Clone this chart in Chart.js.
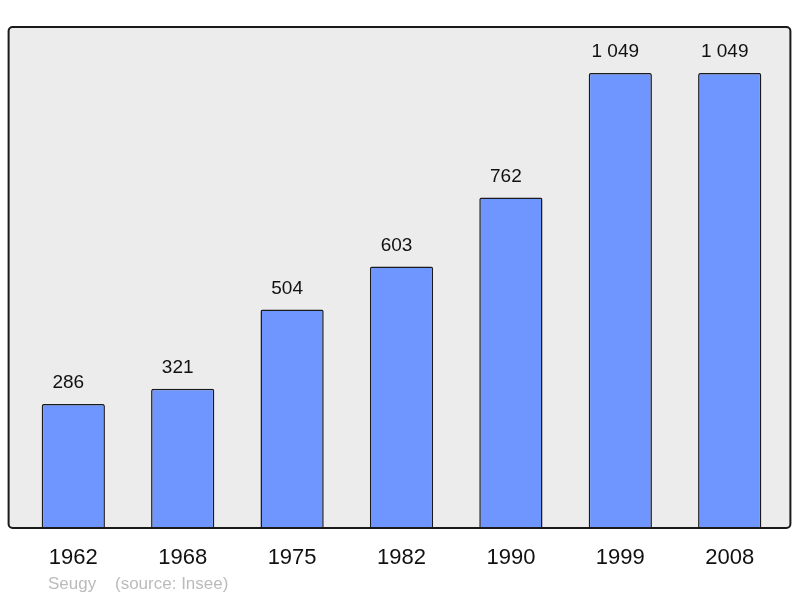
<!DOCTYPE html>
<html>
<head>
<meta charset="utf-8">
<script src="https://cdn.jsdelivr.net/npm/chart.js@4"></script>
<style>
  html, body { margin: 0; padding: 0; background: #ffffff; }
  #wrap { width: 800px; height: 598px; position: relative; }
</style>
</head>
<body>
<div id="wrap"><canvas id="popChart"></canvas></div>
<script>
// Population data
const years = ['1962', '1968', '1975', '1982', '1990', '1999', '2008'];
const population = [286, 321, 504, 603, 762, 1049, 1049];
const yMax = 1155;

const fontFamily = '"Liberation Sans", Arial, sans-serif';

// Format with a space as thousands separator
function formatPop(v) {
    return String(v).replace(/\B(?=(\d{3})+(?!\d))/g, ' ');
}

// Grey box with dark rounded border behind the bars
const boxPlugin = {
    id: 'box',
    beforeDraw(chart) {
        const ctx = chart.ctx;
        const a = chart.chartArea;
        const left = a.left - 10, right = a.right + 6, top = a.top, bottom = a.bottom;
        ctx.save();
        ctx.beginPath();
        ctx.roundRect(left, top, right - left, bottom - top, 4);
        ctx.fillStyle = '#ececec';
        ctx.fill();
        ctx.restore();
    },
    afterDraw(chart) {
        const ctx = chart.ctx;
        const a = chart.chartArea;
        const left = a.left - 10, right = a.right + 6, top = a.top, bottom = a.bottom;
        ctx.save();
        ctx.beginPath();
        ctx.roundRect(left, top, right - left, bottom - top, 4);
        ctx.lineWidth = 2;
        ctx.strokeStyle = '#1a1a1a';
        ctx.stroke();

        // footer
        ctx.font = '17px ' + fontFamily;
        ctx.fillStyle = '#bbbbbb';
        ctx.textBaseline = 'alphabetic';
        ctx.textAlign = 'left';
        ctx.fillText('Seugy', 48, 589);
        ctx.fillText('(source: Insee)', 115, 589);
        ctx.restore();
    }
};

// Value labels above each bar (sit slightly left of the bar centre)
const valueLabels = {
    id: 'valueLabels',
    afterDatasetsDraw(chart) {
        const ctx = chart.ctx;
        const meta = chart.getDatasetMeta(0);
        ctx.save();
        ctx.font = '19px ' + fontFamily;
        ctx.fillStyle = '#111111';
        ctx.textAlign = 'center';
        ctx.textBaseline = 'alphabetic';
        meta.data.forEach((bar, i) => {
            ctx.fillText(formatPop(population[i]), bar.x - 5, bar.y - 15.5);
        });
        ctx.restore();
    }
};

function initPopulationChart() {
    new Chart(document.getElementById('popChart'), {
        type: 'bar',
        data: {
            labels: years,
            datasets: [{
                data: population,
                backgroundColor: '#6f96ff',
                borderColor: '#1a1a1a',
                borderWidth: 1.5,
                borderRadius: 2,
                barPercentage: 0.578,
                categoryPercentage: 1
            }]
        },
        options: {
            responsive: true,
            maintainAspectRatio: false,
            animation: false,
            layout: {
                padding: { left: 18.6, right: 15.6, top: 27, bottom: 0 }
            },
            plugins: {
                legend: { display: false },
                tooltip: { enabled: false },
                title: { display: false }
            },
            scales: {
                x: {
                    grid: { display: false, drawTicks: false },
                    border: { display: false },
                    ticks: {
                        color: '#111111',
                        padding: 17,
                        font: { family: fontFamily, size: 22 }
                    },
                    afterFit(scale) { scale.height = 70; }
                },
                y: {
                    display: false,
                    min: 0,
                    max: yMax
                }
            }
        },
        plugins: [boxPlugin, valueLabels]
    });
}

document.addEventListener('DOMContentLoaded', initPopulationChart);
</script>
</body>
</html>
